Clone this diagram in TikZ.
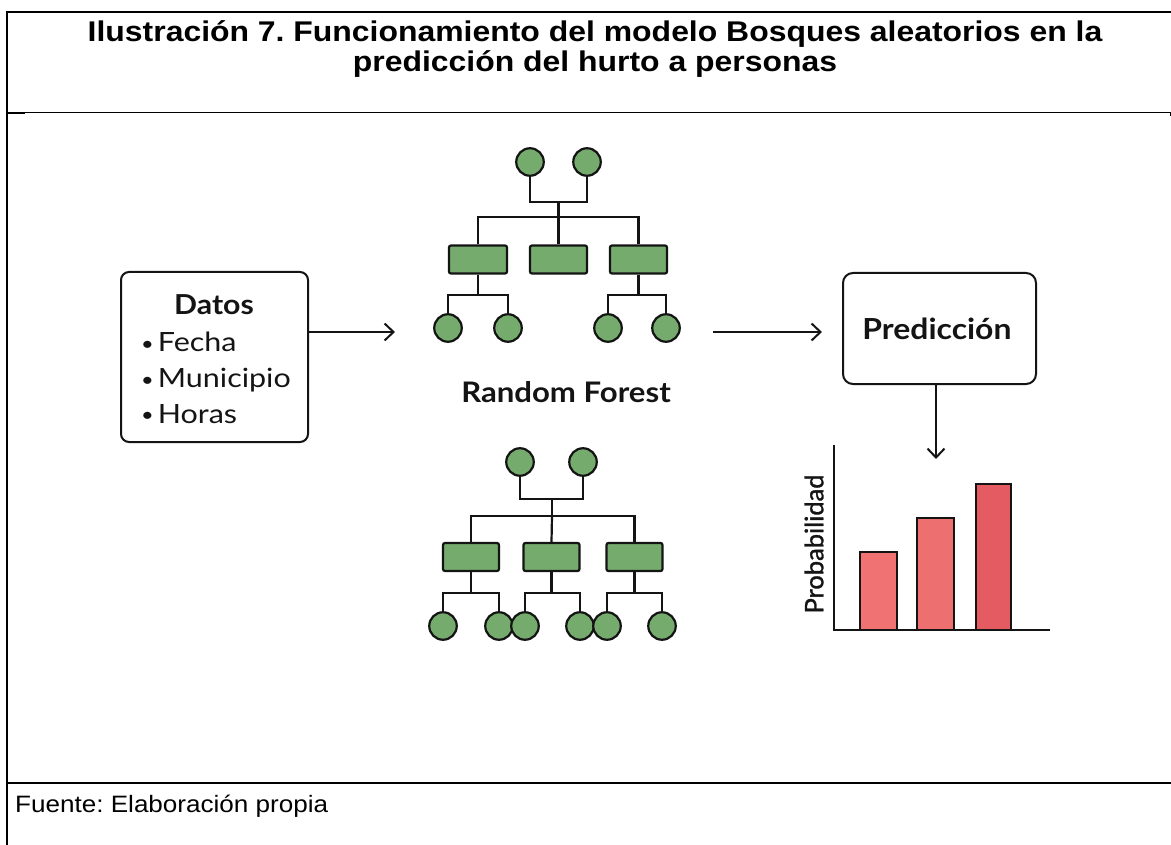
\documentclass[tikz,border=0pt]{standalone}
\usepackage{fontspec}
\setmainfont{Liberation Sans}
\newfontfamily\titlefont{Liberation Sans}[FakeStretch=1.12]
\newfontfamily\footfont{Liberation Sans}[FakeStretch=1.1]
\newfontfamily\latoH{Lato}[FakeStretch=1.1]
\newfontfamily\latoS{Lato}[FakeStretch=1.15]
\newfontfamily\latofb{Lato}[FakeBold=1.2]
\usetikzlibrary{arrows.meta}
\definecolor{leafgreen}{RGB}{118,171,110}
\definecolor{barA}{RGB}{240,114,114}
\definecolor{barB}{RGB}{237,111,111}
\definecolor{barC}{RGB}{228,92,98}
\definecolor{inkc}{RGB}{20,20,20}
\newcommand{\smallbul}{{\fontsize{19}{19}\selectfont\raisebox{1.5pt}{•}}\hspace{4pt}}
\begin{document}
\frenchspacing
\begin{tikzpicture}[x=1pt,y=-1pt,
  leaf/.style={circle,draw=inkc,fill=leafgreen,line width=2.2pt,minimum size=27.5pt,inner sep=0pt},
  splitbox/.style={rectangle,rounded corners=2pt,draw=inkc,fill=leafgreen,line width=2.2pt,minimum width=56pt,minimum height=28pt,inner sep=0pt},
  edgeline/.style={line width=2.2pt,draw=inkc},
  flow/.style={line width=2pt,draw=inkc,-{Straight Barb[length=9pt,width=17pt]}},
  card/.style={rectangle,draw=inkc,line width=2pt,inner sep=0pt},
  frame/.style={draw=black},
  bar/.style={draw=inkc,line width=1.8pt},
  lab/.style={text=inkc,inner sep=0pt},
  bullet/.style={lab,anchor=base west,font=\latoS\fontsize{26.5}{27}\selectfont}
]
\useasboundingbox (0,0) rectangle (1171,845);
\fill[white] (0,0) rectangle (1171,845);

% frame
\draw[frame,line width=2pt] (6,12) -- (1171,12);
\draw[frame,line width=2.5pt] (7,11) -- (7,845);
\draw[frame,line width=1pt] (7,113) -- (1171,113);
\draw[frame,line width=2pt] (7,113) -- (25,113);
\draw[frame,line width=1pt] (1170.5,113) -- (1170.5,116);
\draw[frame,line width=2.5pt] (7,783) -- (1171,783);

% title and footer
\node[lab,anchor=base,text=black,font=\titlefont\bfseries\fontsize{28.5}{30}\selectfont] (t1) at (595,42) {Ilustración 7. Funcionamiento del modelo Bosques aleatorios en la};
\node[lab,anchor=base,text=black,font=\titlefont\bfseries\fontsize{28.5}{30}\selectfont] (t2) at (595,72) {predicción del hurto a personas};
\node[lab,anchor=base west,text=black,font=\footfont\fontsize{23.7}{26}\selectfont] (foot) at (15,812) {Fuente: Elaboración propia};

% Datos box
\node[card,rounded corners=8pt,minimum width=187pt,minimum height=170pt] (datos) at (214.5,357) {};
\node[lab,anchor=base,font=\latoH\bfseries\fontsize{27.5}{30}\selectfont] (dt) at (214,315) {Datos};
\node[bullet] (b1) at (141,352) {\smallbul Fecha};
\node[bullet] (b2) at (141,388) {\smallbul Municipio};
\node[bullet] (b3) at (141,423) {\smallbul Horas};

% Prediccion box
\node[card,rounded corners=10pt,minimum width=193pt,minimum height=111pt] (pred) at (939.5,328.5) {};
\node[lab,anchor=base,font=\latoH\bfseries\fontsize{29}{30}\selectfont] (pt) at (937,339) {Predicción};

% Random Forest label
\node[lab,anchor=base,font=\latoH\bfseries\fontsize{28.3}{30}\selectfont] (rf) at (566,402) {Random Forest};

% arrows
\coordinate (a1e) at (395,332);
\coordinate (a2s) at (713,332);
\coordinate (a2e) at (822,332);
\coordinate (a3e) at (936,459);
\draw[flow] (datos.east |- a1e) -- (a1e);
\draw[flow] (a2s) -- (a2e);
\draw[flow] (pred.south -| a3e) -- (a3e);

% ---- tree 1 ----
\node[leaf] (p1a) at (530,162) {};
\node[leaf] (p1b) at (587,162) {};
\coordinate (j1) at (558.5,202);
\coordinate (k1) at (558.5,217);
\node[splitbox,minimum width=58pt] (r1a) at (478,259.5) {};
\node[splitbox,minimum width=57pt] (r1b) at (558.5,259.5) {};
\node[splitbox,minimum width=57pt] (r1c) at (638.5,259.5) {};
\coordinate (m1a) at (478,295);
\coordinate (m1c) at (638.5,295);
\node[leaf] (l1a) at (448,328) {};
\node[leaf] (l1b) at (508,328) {};
\node[leaf] (l1c) at (608,328) {};
\node[leaf] (l1d) at (666,328) {};
\draw[edgeline] (p1a.south) |- (j1) -| (p1b.south);
\draw[edgeline] (j1) -- (k1);
\draw[edgeline] (r1a.north) |- (k1) -| (r1c.north);
\draw[edgeline] (k1) -- (r1b.north);
\draw[edgeline] (r1a.south) -- (m1a);
\draw[edgeline] (l1a.north) |- (m1a) -| (l1b.north);
\draw[edgeline] (r1c.south) -- (m1c);
\draw[edgeline] (l1c.north) |- (m1c) -| (l1d.north);

% ---- tree 2 ----
\node[leaf] (p2a) at (520,462) {};
\node[leaf] (p2b) at (583,462) {};
\coordinate (j2) at (552,499);
\coordinate (k2) at (552,516);
\node[splitbox] (r2a) at (471,557) {};
\node[splitbox] (r2b) at (551.5,557) {};
\node[splitbox] (r2c) at (634.5,557) {};
\coordinate (m2a) at (471,593);
\coordinate (m2b) at (551.5,593);
\coordinate (m2c) at (634.5,593);
\draw[edgeline] (p2a.south) |- (j2) -| (p2b.south);
\draw[edgeline] (j2) -- (k2);
\draw[edgeline] (r2a.north) |- (k2) -| (r2c.north);
\draw[edgeline] (k2) -- (r2b.north);
\draw[edgeline] (r2a.south) -- (m2a);
\draw[edgeline] (r2b.south) -- (m2b);
\draw[edgeline] (r2c.south) -- (m2c);
\coordinate (q1) at (443,626);
\coordinate (q2) at (499,626);
\coordinate (q3) at (525,626);
\coordinate (q4) at (580,626);
\coordinate (q5) at (607,626);
\coordinate (q6) at (662,626);
\draw[edgeline] (q1) |- (m2a) -| (q2);
\draw[edgeline] (q3) |- (m2b) -| (q4);
\draw[edgeline] (q5) |- (m2c) -| (q6);
\node[leaf] (l2a) at (q1) {};
\node[leaf] (l2b) at (q2) {};
\node[leaf] (l2c) at (q3) {};
\node[leaf] (l2d) at (q4) {};
\node[leaf] (l2e) at (q5) {};
\node[leaf] (l2f) at (q6) {};

% ---- chart ----
\draw[bar,fill=barA] (860,630) rectangle (897,552);
\draw[bar,fill=barB] (917,630) rectangle (954,518);
\draw[bar,fill=barC] (976,630) rectangle (1011,484);
\coordinate (ytop) at (834,445);
\coordinate (orig) at (834,630);
\coordinate (xend) at (1050,630);
\draw[line width=2pt,draw=inkc] (ytop) -- (orig) -- (xend);
\node[lab,rotate=90,font=\latofb\fontsize{25.5}{27}\selectfont] (yl) at (814,544) {Probabilidad};
\end{tikzpicture}
\end{document}
